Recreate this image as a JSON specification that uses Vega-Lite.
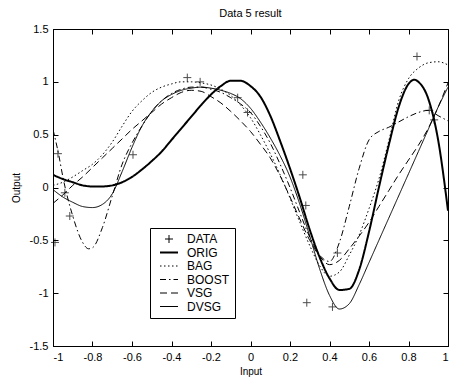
{
 "$schema": "https://vega.github.io/schema/vega-lite/v6.json",
 "width": 395, "height": 317,
 "autosize": {"type": "none"},
 "padding": {"left": 53, "top": 29, "right": 9, "bottom": 35},
 "background": "white",
 "title": {"text": "Data 5 result", "fontSize": 11, "fontWeight": "normal", "font": "Liberation Sans", "offset": 4, "color": "black", "anchor": "middle"},
 "config": {
  "view": {"stroke": "black", "strokeWidth": 1},
  "axis": {"grid": false, "domainColor": "black", "tickColor": "black", "labelColor": "black", "titleColor": "black", "labelFont": "Liberation Sans", "titleFont": "Liberation Sans", "labelFontSize": 11, "titleFontSize": 10, "titleFontWeight": "normal", "tickSize": -5, "labelPadding": 10},
  "legend": {"labelFont": "Liberation Sans", "labelFontSize": 12, "labelColor": "black"}
 },
 "datasets": {
  "curves": [
   {"s":"ORIG","x":-1,"y":0.12},{"s":"ORIG","x":-0.95,"y":0.08},{"s":"ORIG","x":-0.9,"y":0.05},{"s":"ORIG","x":-0.85,"y":0.02},{"s":"ORIG","x":-0.8,"y":0.01},{"s":"ORIG","x":-0.75,"y":0.01},{"s":"ORIG","x":-0.7,"y":0.02},{"s":"ORIG","x":-0.65,"y":0.05},{"s":"ORIG","x":-0.6,"y":0.10},{"s":"ORIG","x":-0.55,"y":0.17},{"s":"ORIG","x":-0.5,"y":0.25},{"s":"ORIG","x":-0.45,"y":0.34},{"s":"ORIG","x":-0.4,"y":0.45},{"s":"ORIG","x":-0.35,"y":0.56},{"s":"ORIG","x":-0.3,"y":0.67},{"s":"ORIG","x":-0.25,"y":0.78},{"s":"ORIG","x":-0.2,"y":0.88},{"s":"ORIG","x":-0.15,"y":0.96},{"s":"ORIG","x":-0.1,"y":1.01},{"s":"ORIG","x":-0.05,"y":1.01},{"s":"ORIG","x":0,"y":0.96},{"s":"ORIG","x":0.05,"y":0.86},{"s":"ORIG","x":0.1,"y":0.68},{"s":"ORIG","x":0.15,"y":0.44},{"s":"ORIG","x":0.2,"y":0.18},{"s":"ORIG","x":0.25,"y":-0.1},{"s":"ORIG","x":0.3,"y":-0.4},{"s":"ORIG","x":0.35,"y":-0.66},{"s":"ORIG","x":0.4,"y":-0.86},{"s":"ORIG","x":0.45,"y":-0.97},{"s":"ORIG","x":0.5,"y":-0.96},{"s":"ORIG","x":0.55,"y":-0.78},{"s":"ORIG","x":0.6,"y":-0.42},{"s":"ORIG","x":0.65,"y":0.0},{"s":"ORIG","x":0.7,"y":0.40},{"s":"ORIG","x":0.75,"y":0.76},{"s":"ORIG","x":0.8,"y":0.98},{"s":"ORIG","x":0.83,"y":1.02},{"s":"ORIG","x":0.85,"y":1.0},{"s":"ORIG","x":0.9,"y":0.84},{"s":"ORIG","x":0.95,"y":0.45},{"s":"ORIG","x":1,"y":-0.22},
   {"s":"BAG","x":-1,"y":0.02},{"s":"BAG","x":-0.95,"y":0.05},{"s":"BAG","x":-0.9,"y":0.10},{"s":"BAG","x":-0.85,"y":0.16},{"s":"BAG","x":-0.8,"y":0.22},{"s":"BAG","x":-0.75,"y":0.31},{"s":"BAG","x":-0.7,"y":0.43},{"s":"BAG","x":-0.65,"y":0.58},{"s":"BAG","x":-0.6,"y":0.72},{"s":"BAG","x":-0.55,"y":0.82},{"s":"BAG","x":-0.5,"y":0.90},{"s":"BAG","x":-0.45,"y":0.95},{"s":"BAG","x":-0.4,"y":0.98},{"s":"BAG","x":-0.35,"y":1.0},{"s":"BAG","x":-0.3,"y":1.0},{"s":"BAG","x":-0.25,"y":0.99},{"s":"BAG","x":-0.2,"y":0.97},{"s":"BAG","x":-0.15,"y":0.93},{"s":"BAG","x":-0.1,"y":0.87},{"s":"BAG","x":-0.05,"y":0.78},{"s":"BAG","x":0,"y":0.66},{"s":"BAG","x":0.05,"y":0.50},{"s":"BAG","x":0.1,"y":0.32},{"s":"BAG","x":0.15,"y":0.12},{"s":"BAG","x":0.2,"y":-0.1},{"s":"BAG","x":0.25,"y":-0.33},{"s":"BAG","x":0.3,"y":-0.55},{"s":"BAG","x":0.35,"y":-0.74},{"s":"BAG","x":0.4,"y":-0.84},{"s":"BAG","x":0.45,"y":-0.80},{"s":"BAG","x":0.5,"y":-0.64},{"s":"BAG","x":0.55,"y":-0.45},{"s":"BAG","x":0.6,"y":-0.2},{"s":"BAG","x":0.65,"y":0.08},{"s":"BAG","x":0.7,"y":0.44},{"s":"BAG","x":0.75,"y":0.82},{"s":"BAG","x":0.8,"y":1.03},{"s":"BAG","x":0.85,"y":1.13},{"s":"BAG","x":0.9,"y":1.18},{"s":"BAG","x":0.95,"y":1.19},{"s":"BAG","x":1,"y":1.16},
   {"s":"BOOST","x":-1,"y":0.55},{"s":"BOOST","x":-0.97,"y":0.3},{"s":"BOOST","x":-0.95,"y":0.1},{"s":"BOOST","x":-0.9,"y":-0.27},{"s":"BOOST","x":-0.85,"y":-0.52},{"s":"BOOST","x":-0.82,"y":-0.58},{"s":"BOOST","x":-0.8,"y":-0.57},{"s":"BOOST","x":-0.75,"y":-0.38},{"s":"BOOST","x":-0.7,"y":-0.08},{"s":"BOOST","x":-0.65,"y":0.22},{"s":"BOOST","x":-0.6,"y":0.42},{"s":"BOOST","x":-0.55,"y":0.58},{"s":"BOOST","x":-0.5,"y":0.72},{"s":"BOOST","x":-0.45,"y":0.82},{"s":"BOOST","x":-0.4,"y":0.89},{"s":"BOOST","x":-0.35,"y":0.93},{"s":"BOOST","x":-0.3,"y":0.95},{"s":"BOOST","x":-0.25,"y":0.95},{"s":"BOOST","x":-0.2,"y":0.93},{"s":"BOOST","x":-0.15,"y":0.9},{"s":"BOOST","x":-0.1,"y":0.85},{"s":"BOOST","x":-0.05,"y":0.79},{"s":"BOOST","x":0,"y":0.71},{"s":"BOOST","x":0.05,"y":0.58},{"s":"BOOST","x":0.1,"y":0.42},{"s":"BOOST","x":0.15,"y":0.22},{"s":"BOOST","x":0.2,"y":0.0},{"s":"BOOST","x":0.25,"y":-0.24},{"s":"BOOST","x":0.3,"y":-0.47},{"s":"BOOST","x":0.35,"y":-0.64},{"s":"BOOST","x":0.4,"y":-0.70},{"s":"BOOST","x":0.45,"y":-0.52},{"s":"BOOST","x":0.5,"y":-0.18},{"s":"BOOST","x":0.55,"y":0.18},{"s":"BOOST","x":0.6,"y":0.45},{"s":"BOOST","x":0.65,"y":0.53},{"s":"BOOST","x":0.7,"y":0.57},{"s":"BOOST","x":0.75,"y":0.62},{"s":"BOOST","x":0.8,"y":0.67},{"s":"BOOST","x":0.85,"y":0.71},{"s":"BOOST","x":0.9,"y":0.73},{"s":"BOOST","x":0.95,"y":0.68},{"s":"BOOST","x":1,"y":0.63},
   {"s":"VSG","x":-1,"y":-0.15},{"s":"VSG","x":-0.95,"y":-0.07},{"s":"VSG","x":-0.9,"y":0.02},{"s":"VSG","x":-0.85,"y":0.1},{"s":"VSG","x":-0.8,"y":0.19},{"s":"VSG","x":-0.75,"y":0.28},{"s":"VSG","x":-0.7,"y":0.37},{"s":"VSG","x":-0.65,"y":0.46},{"s":"VSG","x":-0.6,"y":0.55},{"s":"VSG","x":-0.55,"y":0.63},{"s":"VSG","x":-0.5,"y":0.71},{"s":"VSG","x":-0.45,"y":0.79},{"s":"VSG","x":-0.4,"y":0.85},{"s":"VSG","x":-0.35,"y":0.9},{"s":"VSG","x":-0.3,"y":0.92},{"s":"VSG","x":-0.25,"y":0.91},{"s":"VSG","x":-0.2,"y":0.86},{"s":"VSG","x":-0.15,"y":0.8},{"s":"VSG","x":-0.1,"y":0.72},{"s":"VSG","x":-0.05,"y":0.63},{"s":"VSG","x":0,"y":0.53},{"s":"VSG","x":0.05,"y":0.41},{"s":"VSG","x":0.1,"y":0.28},{"s":"VSG","x":0.15,"y":0.11},{"s":"VSG","x":0.2,"y":-0.09},{"s":"VSG","x":0.25,"y":-0.3},{"s":"VSG","x":0.3,"y":-0.5},{"s":"VSG","x":0.35,"y":-0.65},{"s":"VSG","x":0.4,"y":-0.73},{"s":"VSG","x":0.45,"y":-0.69},{"s":"VSG","x":0.5,"y":-0.58},{"s":"VSG","x":0.55,"y":-0.46},{"s":"VSG","x":0.6,"y":-0.33},{"s":"VSG","x":0.65,"y":-0.18},{"s":"VSG","x":0.7,"y":-0.03},{"s":"VSG","x":0.75,"y":0.12},{"s":"VSG","x":0.8,"y":0.26},{"s":"VSG","x":0.85,"y":0.40},{"s":"VSG","x":0.9,"y":0.56},{"s":"VSG","x":0.95,"y":0.76},{"s":"VSG","x":1,"y":0.99},
   {"s":"DVSG","x":-1,"y":-0.02},{"s":"DVSG","x":-0.95,"y":-0.09},{"s":"DVSG","x":-0.9,"y":-0.14},{"s":"DVSG","x":-0.85,"y":-0.18},{"s":"DVSG","x":-0.8,"y":-0.19},{"s":"DVSG","x":-0.75,"y":-0.16},{"s":"DVSG","x":-0.7,"y":-0.06},{"s":"DVSG","x":-0.65,"y":0.15},{"s":"DVSG","x":-0.6,"y":0.38},{"s":"DVSG","x":-0.55,"y":0.58},{"s":"DVSG","x":-0.5,"y":0.72},{"s":"DVSG","x":-0.45,"y":0.82},{"s":"DVSG","x":-0.4,"y":0.88},{"s":"DVSG","x":-0.35,"y":0.92},{"s":"DVSG","x":-0.3,"y":0.94},{"s":"DVSG","x":-0.25,"y":0.95},{"s":"DVSG","x":-0.2,"y":0.94},{"s":"DVSG","x":-0.15,"y":0.92},{"s":"DVSG","x":-0.1,"y":0.89},{"s":"DVSG","x":-0.05,"y":0.84},{"s":"DVSG","x":0,"y":0.75},{"s":"DVSG","x":0.05,"y":0.62},{"s":"DVSG","x":0.1,"y":0.47},{"s":"DVSG","x":0.15,"y":0.3},{"s":"DVSG","x":0.2,"y":0.1},{"s":"DVSG","x":0.25,"y":-0.16},{"s":"DVSG","x":0.3,"y":-0.46},{"s":"DVSG","x":0.35,"y":-0.77},{"s":"DVSG","x":0.4,"y":-1.02},{"s":"DVSG","x":0.45,"y":-1.15},{"s":"DVSG","x":0.5,"y":-1.1},{"s":"DVSG","x":0.55,"y":-0.92},{"s":"DVSG","x":0.6,"y":-0.71},{"s":"DVSG","x":0.65,"y":-0.5},{"s":"DVSG","x":0.7,"y":-0.29},{"s":"DVSG","x":0.75,"y":-0.08},{"s":"DVSG","x":0.8,"y":0.13},{"s":"DVSG","x":0.85,"y":0.34},{"s":"DVSG","x":0.9,"y":0.55},{"s":"DVSG","x":0.95,"y":0.76},{"s":"DVSG","x":1,"y":0.95}
  ],
  "pts": [
   {"s":"DATA","x":-0.975,"y":0.32},{"s":"DATA","x":-0.94,"y":-0.05},{"s":"DATA","x":-0.915,"y":-0.27},{"s":"DATA","x":-0.99,"y":-0.52},{"s":"DATA","x":-0.595,"y":0.31},{"s":"DATA","x":-0.32,"y":1.04},{"s":"DATA","x":-0.255,"y":1.0},{"s":"DATA","x":-0.065,"y":0.85},{"s":"DATA","x":-0.015,"y":0.71},{"s":"DATA","x":0.265,"y":0.12},{"s":"DATA","x":0.28,"y":-0.17},{"s":"DATA","x":0.285,"y":-1.09},{"s":"DATA","x":0.44,"y":-0.62},{"s":"DATA","x":0.415,"y":-1.13},{"s":"DATA","x":0.843,"y":1.24},{"s":"DATA","x":0.905,"y":0.73},{"s":"DATA","x":0.93,"y":0.64}
  ]
 },
 "layer": [
  {
   "data": {"name": "curves"},
   "mark": {"type": "line", "interpolate": "monotone", "color": "black", "clip": true},
   "encoding": {
    "x": {"field": "x", "type": "quantitative", "scale": {"domain": [-1, 1], "nice": false, "zero": false}, "axis": {"title": "Input", "values": [-1,-0.8,-0.6,-0.4,-0.2,0,0.2,0.4,0.6,0.8,1], "labelExpr": "'' + datum.value", "titlePadding": 4}},
    "y": {"field": "y", "type": "quantitative", "scale": {"domain": [-1.5, 1.5], "nice": false, "zero": false}, "axis": {"title": "Output", "values": [-1.5,-1,-0.5,0,0.5,1,1.5], "labelExpr": "'' + datum.value", "titlePadding": 8}},
    "strokeDash": {"field": "s", "type": "nominal", "scale": {"domain": ["DATA","ORIG","BAG","BOOST","VSG","DVSG"], "range": [[1,0],[1,0],[1.5,2.5],[6,3,1.5,3],[7,4],[1,0]]}, "legend": {"title": null, "orient": "none", "legendX": 97, "legendY": 199, "strokeColor": "black", "fillColor": "white", "padding": 5, "rowPadding": 1.5, "symbolSize": 100, "symbolOffset": 8, "labelOffset": 12, "symbolStrokeColor": "black", "symbolFillColor": "transparent", "zindex": 5}},
    "strokeWidth": {"field": "s", "type": "ordinal", "scale": {"type": "ordinal", "domain": ["DATA","ORIG","BAG","BOOST","VSG","DVSG"], "range": [1, 2, 1, 1, 1, 1]}, "legend": {"title": null, "orient": "none", "legendX": 97, "legendY": 199}}
   }
  },
  {
   "data": {"name": "pts"},
   "mark": {"type": "point", "color": "black", "filled": false, "size": 100, "strokeWidth": 1},
   "encoding": {
    "x": {"field": "x", "type": "quantitative", "axis": {"orient": "top", "labels": false, "title": null, "domain": false, "values": [-1,-0.8,-0.6,-0.4,-0.2,0,0.2,0.4,0.6,0.8,1]}},
    "y": {"field": "y", "type": "quantitative", "axis": {"orient": "right", "labels": false, "title": null, "domain": false, "values": [-1.5,-1,-0.5,0,0.5,1,1.5]}},
    "shape": {"field": "s", "type": "nominal", "scale": {"domain": ["DATA","ORIG","BAG","BOOST","VSG","DVSG"], "range": ["M-0.8,0H0.8M0,-0.8V0.8","M-1.8,0H1.8","M-1.8,0H1.8","M-1.8,0H1.8","M-1.8,0H1.8","M-1.8,0H1.8"]}, "legend": {"title": null, "orient": "none", "legendX": 97, "legendY": 199}}
   }
  }
 ],
 "resolve": {"axis": {"x": "independent", "y": "independent"}}
}
